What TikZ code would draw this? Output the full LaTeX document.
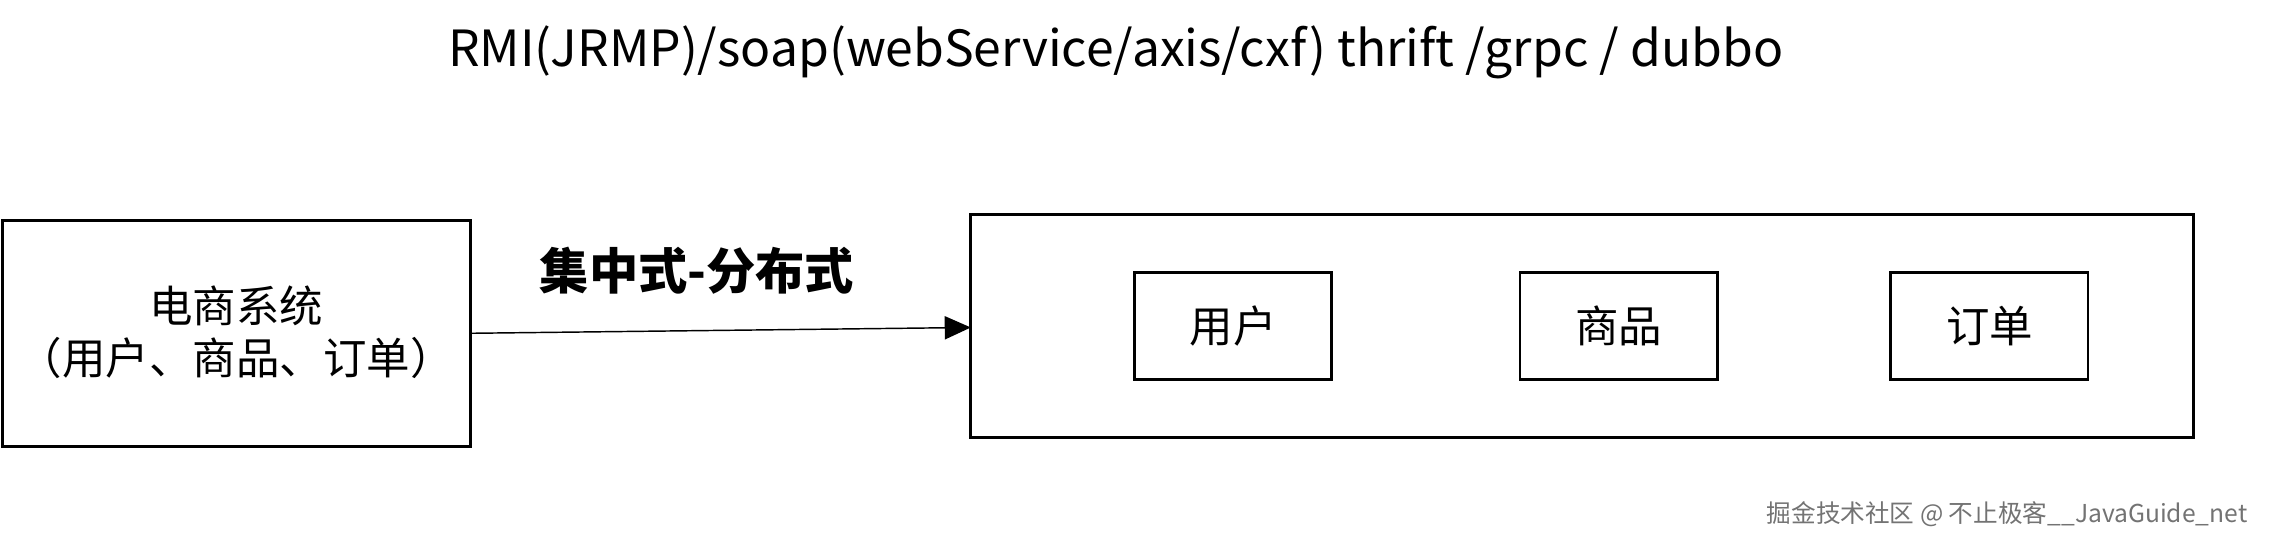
\documentclass[tikz,border=0pt]{standalone}
\usepackage{fontspec}
\setmainfont{Noto Sans CJK SC}
\newfontfamily\cjk{Noto Sans CJK SC}
\usetikzlibrary{arrows.meta}
\begin{document}
\begin{tikzpicture}[x=0.5pt,y=-0.5pt,
  box/.style={draw,line width=1pt},
  txt/.style={font=\cjk\fontsize{15}{18}\selectfont}]
\useasboundingbox (0,0) rectangle (1568,377);
\node[font=\fontsize{17.2}{20}\selectfont] (title) at (770,36) {RMI(JRMP)/soap(webService/axis/cxf) thrift /grpc / dubbo};
\draw[box] (2,152) rectangle (325,308);
\coordinate (lb) at (325,230);
\node[txt,align=center] (ecom) at (163,229) {电商系统\\（用户、商品、订单）};
\draw[box] (670,148) rectangle (1514,302);
\coordinate (rb) at (670,226);
\node[box,txt,minimum width=68pt,minimum height=37pt] (u) at (851,225) {用户};
\node[box,txt,minimum width=68pt,minimum height=37pt] (s) at (1117,225) {商品};
\node[box,txt,minimum width=68pt,minimum height=37pt] (o) at (1373,225) {订单};
\draw[line width=0.5pt,-{Triangle[length=9pt,width=8pt]}] (lb) -- (rb);
\node[txt,font=\cjk\bfseries\fontsize{17}{20}\selectfont] (lab) at (481,187) {集中式-分布式};
\node[anchor=east,font=\cjk\fontsize{8.5}{10}\selectfont,text=black!55] (wm) at (1558,355) {掘金技术社区 @ 不止极客\_\_JavaGuide\_net};
\end{tikzpicture}
\end{document}
